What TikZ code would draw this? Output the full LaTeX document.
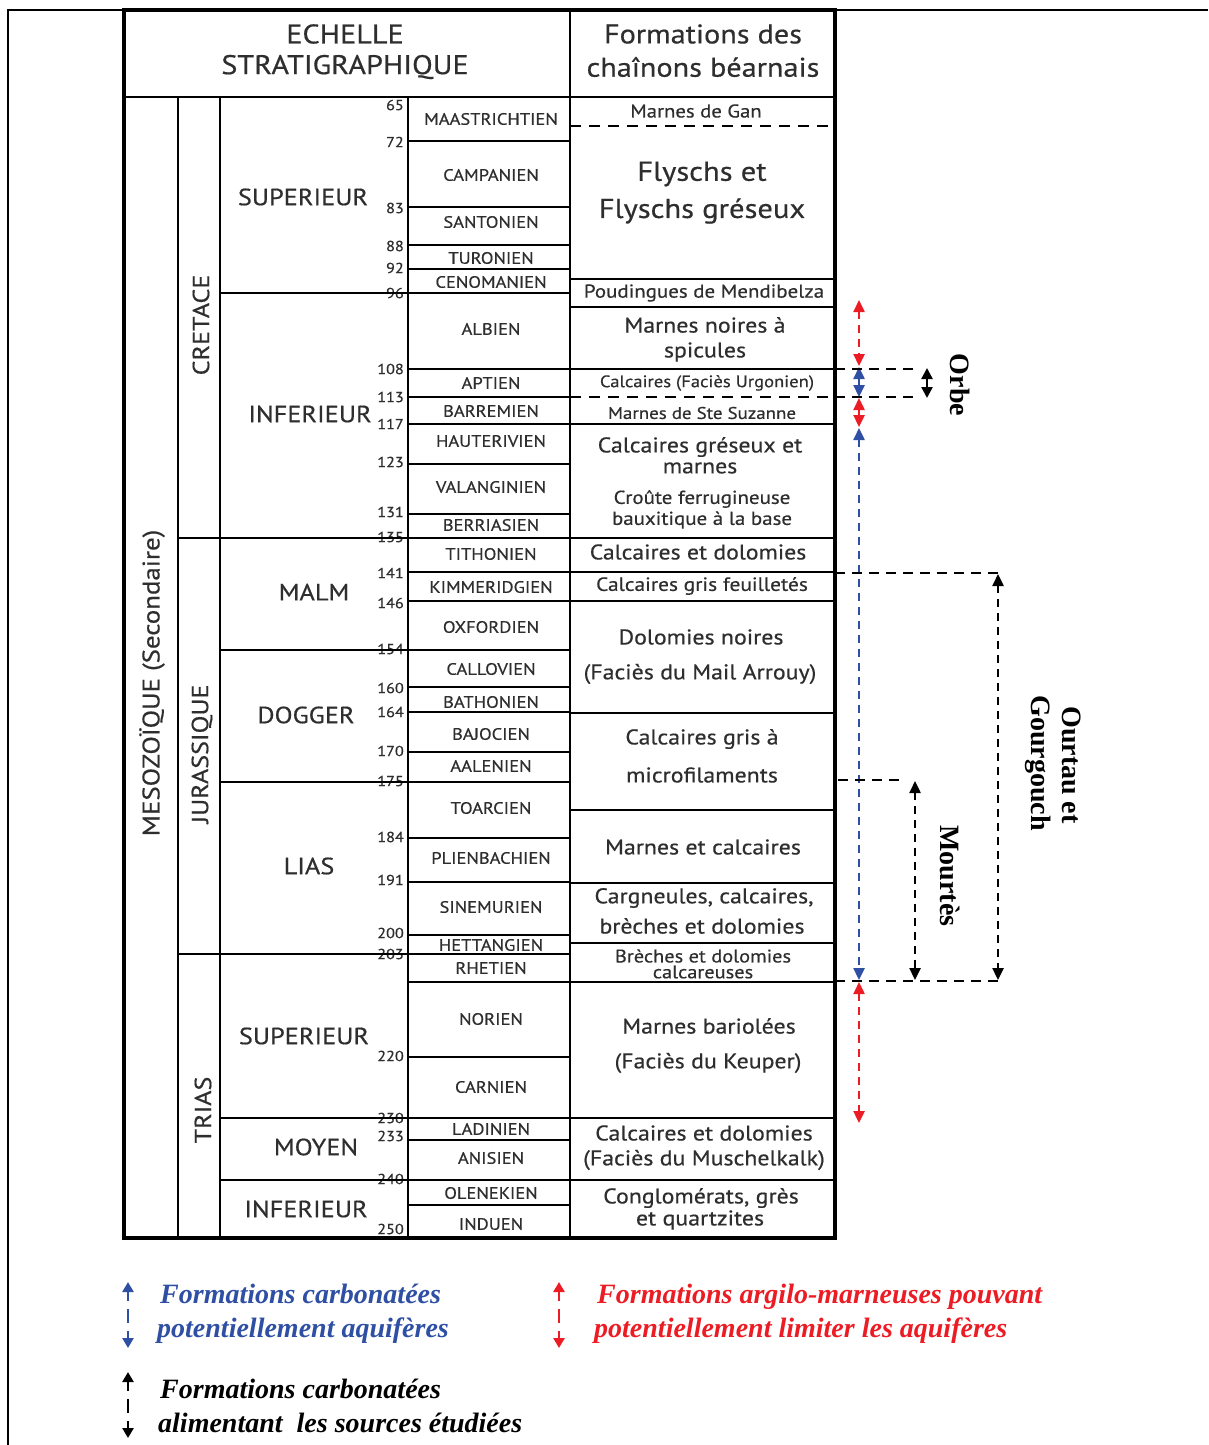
\documentclass[tikz,border=0pt]{standalone}
\usepackage{fontspec}
\setmainfont{Liberation Serif}
\newfontfamily\tabfont[FakeStretch=1.12,FakeBold=0.5]{PT Sans}
\usetikzlibrary{arrows.meta}
\definecolor{txt}{HTML}{2E2E2E}
\definecolor{bluea}{HTML}{2E4FA3}
\definecolor{reda}{HTML}{EC1C24}
\newcommand\tfs[1]{\tabfont\fontsize{#1}{#1}\selectfont}
\newcommand\lgs{\fontsize{28}{28}\selectfont\bfseries\itshape}
\begin{document}
\begin{tikzpicture}[x=1pt,y=-1pt,
  tline/.style={line width=2.6},
  tdash/.style={line width=2.6,dash pattern=on 11 off 8},
  num/.style={font=\tfs{14.5}, text=txt, inner sep=0, anchor=east},
  stg/.style={font=\tfs{16.5}, text=txt, inner sep=0},
  sub/.style={font=\tfs{23.5}, text=txt, inner sep=0},
  rot/.style={font=\tfs{24}, text=txt, inner sep=0, rotate=90},
  fm/.style={font=\tfs{#1}, text=txt, inner sep=0},
  hd/.style={font=\tfs{27}, text=txt, inner sep=0},
  site/.style={font=\fontsize{28}{28}\selectfont\bfseries, inner sep=0, rotate=-90},
  arr/.style={line width=2.4, dash pattern=on 8 off 6, {Triangle[length=12pt,width=11pt]}-{Triangle[length=12pt,width=11pt]}},
  blkdash/.style={line width=2.2, dash pattern=on 10 off 7},
  lgarr/.style={line width=2.8, dash pattern=on 10 off 8 on 14 off 8, {Triangle[length=10pt,width=11pt]}-{Triangle[length=10pt,width=11pt]}},
  lg/.style={font=\lgs, inner sep=0, anchor=base west}
]
\useasboundingbox (0,0) rectangle (1208,1445);
% frame
\draw[line width=1.5] (8,1445) -- (8,10) -- (1208,10);

% ---------- numbers (drawn before the lines) ----------
\node[num] (n65)  at (404,105) {65};
\node[num] (n72)  at (404,142) {72};
\node[num] (n83)  at (404,208) {83};
\node[num] (n88)  at (404,246) {88};
\node[num] (n92)  at (404,268) {92};
\node[num] (n96)  at (404,293) {96};
\node[num] (n108) at (404,369) {108};
\node[num] (n113) at (404,397) {113};
\node[num] (n117) at (404,424) {117};
\node[num] (n123) at (404,462) {123};
\node[num] (n131) at (404,512) {131};
\node[num] (n135) at (404,537) {135};
\node[num] (n141) at (404,573) {141};
\node[num] (n146) at (404,603) {146};
\node[num] (n154) at (404,649) {154};
\node[num] (n160) at (404,688) {160};
\node[num] (n164) at (404,712) {164};
\node[num] (n170) at (404,751) {170};
\node[num] (n175) at (404,781) {175};
\node[num] (n184) at (404,837) {184};
\node[num] (n191) at (404,880) {191};
\node[num] (n200) at (404,933) {200};
\node[num] (n203) at (404,954) {203};
\node[num] (n220) at (404,1056) {220};
\node[num] (n230) at (404,1118) {230};
\node[num] (n233) at (404,1136) {233};
\node[num] (n240) at (404,1179) {240};
\node[num] (n250) at (404,1229) {250};

% ---------- table lines ----------
\draw[line width=3.2] (124,10) rectangle (835,1238);
\draw[tline] (124,97) -- (835,97);
\draw[tline] (570,10) -- (570,1238);
\foreach \x in {178,220,408} \draw[tline] (\x,97) -- (\x,1238);
% era boundaries
\foreach \y in {538,954} \draw[tline] (178,\y) -- (570,\y);
% epoch boundaries
\foreach \y in {293,650,782,1118,1180} \draw[tline] (220,\y) -- (570,\y);
% stage boundaries
\foreach \y in {141,207,245,269,369,397,424,464,514,572,601,687,712,752,838,882,935,982,1057,1140,1205}
  \draw[tline] (408,\y) -- (570,\y);
% formation boundaries
\foreach \y in {279,307,369,424,538,572,601,713,810,883,943,982,1118,1180}
  \draw[tline] (570,\y) -- (835,\y);
\foreach \y in {126,397} \draw[tdash] (570,\y) -- (835,\y);

% ---------- headers ----------
\node[hd] (h1) at (345,34) {ECHELLE};
\node[hd] (h2) at (345,67) {STRATIGRAPHIQUE};
\node[hd] (h3) at (703,34) {Formations des};
\node[hd] (h4) at (703,67) {chaînons béarnais};

% ---------- rotated labels ----------
\node[rot] (era) at (152,683) {MESOZOÏQUE (Secondaire)};
\node[rot, font=\tfs{23.3}] (cre) at (201,325) {CRETACE};
\node[rot, font=\tfs{23.3}] (jur) at (202,754) {JURASSIQUE};
\node[rot, font=\tfs{23.3}] (tri) at (203,1110) {TRIAS};

% ---------- epochs ----------
\node[sub] (e1) at (303,197) {SUPERIEUR};
\node[sub] (e2) at (310,414) {INFERIEUR};
\node[sub] (e3) at (314,592) {MALM};
\node[sub] (e4) at (306,715) {DOGGER};
\node[sub] (e5) at (309,866) {LIAS};
\node[sub] (e6) at (304,1036) {SUPERIEUR};
\node[sub] (e7) at (316,1147) {MOYEN};
\node[sub] (e8) at (306,1209) {INFERIEUR};

% ---------- stages ----------
\foreach \y/\t [count=\i] in {119/MAASTRICHTIEN,175/CAMPANIEN,222/SANTONIEN,258/TURONIEN,282/CENOMANIEN,
  329/ALBIEN,383/APTIEN,411/BARREMIEN,441/HAUTERIVIEN,487/VALANGINIEN,525/BERRIASIEN,
  554/TITHONIEN,587/KIMMERIDGIEN,627/OXFORDIEN,669/CALLOVIEN,702/BATHONIEN,734/BAJOCIEN,766/AALENIEN,
  808/TOARCIEN,858/PLIENBACHIEN,907/SINEMURIEN,945/HETTANGIEN,
  968/RHETIEN,1019/NORIEN,1087/CARNIEN,1129/LADINIEN,1158/ANISIEN,1193/OLENEKIEN,1224/INDUEN}
  \node[stg] (s\i) at (491,\y) {\t};

% ---------- formations ----------
\node[fm=18.5] (f1)  at (696,111) {Marnes de Gan};
\node[fm=27.3] (f2)  at (702,174) {Flyschs et};
\node[fm=27.3] (f3)  at (702,211) {Flyschs gréseux};
\node[fm=18.7] (f4)  at (704,293) {Poudingues de Mendibelza};
\node[fm=21.3] (f5)  at (705,325) {Marnes noires à};
\node[fm=21.3] (f6)  at (705,352) {spicules};
\node[fm=16.6] (f7)  at (707,383) {Calcaires (Faciès Urgonien)};
\node[fm=16.9] (f8)  at (702,413) {Marnes de Ste Suzanne};
\node[fm=21.3] (f9)  at (700,447) {Calcaires gréseux et};
\node[fm=21.3] (f10) at (700,468) {marnes};
\node[fm=18.7] (f11) at (702,499) {Croûte ferrugineuse};
\node[fm=18.7] (f12) at (702,520) {bauxitique à la base};
\node[fm=21.2] (f13) at (698,552) {Calcaires et dolomies};
\node[fm=19.1] (f14) at (702,586) {Calcaires gris feuilletés};
\node[fm=21.3] (f15) at (701,637) {Dolomies noires};
\node[fm=21.3] (f16) at (700,674) {(Faciès du Mail Arrouy)};
\node[fm=21.3] (f17) at (702,739) {Calcaires gris à};
\node[fm=21.3] (f18) at (702,775) {microfilaments};
\node[fm=21.3] (f19) at (703,847) {Marnes et calcaires};
\node[fm=21.3] (f20) at (704,898) {Cargneules, calcaires,};
\node[fm=21.3] (f21) at (702,926) {brèches et dolomies};
\node[fm=18.2] (f22) at (703,956) {Brèches et dolomies};
\node[fm=18.2] (f23) at (703,972) {calcareuses};
\node[fm=21.3] (f24) at (709,1026) {Marnes bariolées};
\node[fm=21.3] (f25) at (708,1063) {(Faciès du Keuper)};
\node[fm=21.3] (f26) at (704,1133) {Calcaires et dolomies};
\node[fm=21.3] (f27) at (704,1160) {(Faciès du Muschelkalk)};
\node[fm=21.3] (f28) at (701,1198) {Conglomérats, grès};
\node[fm=21.3] (f29) at (700,1220) {et quartzites};

% ---------- aquifer arrows ----------
\coordinate (r1a) at (859,300); \coordinate (r1b) at (859,366);
\coordinate (b1a) at (859,367); \coordinate (b1b) at (859,397);
\coordinate (r2a) at (859,398); \coordinate (r2b) at (859,427);
\coordinate (b2a) at (859,428); \coordinate (b2b) at (859,980);
\coordinate (r3a) at (859,982); \coordinate (r3b) at (859,1123);
\draw[arr, reda]  (r1a) -- (r1b);
\draw[arr, bluea] (b1a) -- (b1b);
\draw[arr, reda]  (r2a) -- (r2b);
\draw[arr, bluea] (b2a) -- (b2b);
\draw[arr, reda]  (r3a) -- (r3b);

% ---------- Orbe ----------
\coordinate (o1a) at (835,369); \coordinate (o1b) at (915,369);
\coordinate (o2a) at (835,397); \coordinate (o2b) at (915,397);
\draw[blkdash] (o1a) -- (o1b);
\draw[blkdash] (o2a) -- (o2b);
\coordinate (oa) at (927,368); \coordinate (ob) at (927,398);
\draw[line width=2.4, {Triangle[length=11pt,width=11pt]}-{Triangle[length=11pt,width=11pt]}] (oa) -- (ob);
\node[site] (orbe) at (960,385) {Orbe};

% ---------- Ourtau et Gourgouch ----------
\coordinate (g1a) at (835,573); \coordinate (g1b) at (998,573);
\coordinate (g2a) at (835,981); \coordinate (g2b) at (998,981);
\draw[blkdash] (g1a) -- (g1b);
\draw[blkdash] (g2a) -- (g2b);
\coordinate (ga) at (998,574); \coordinate (gb) at (998,980);
\draw[arr, black] (ga) -- (gb);
\node[site] (ourt) at (1072,765) {Ourtau et};
\node[site] (gour) at (1038,763) {Gourgouch};

% ---------- Mourtes ----------
\coordinate (m1a) at (838,780); \coordinate (m1b) at (905,780);
\draw[blkdash] (m1a) -- (m1b);
\coordinate (ma) at (915,781); \coordinate (mb) at (915,980);
\draw[arr, black] (ma) -- (mb);
\node[site] (mour) at (950,876) {Mourtès};

% ---------- legend ----------
\coordinate (lb1) at (128,1282); \coordinate (lb2) at (128,1348);
\draw[lgarr, bluea] (lb1) -- (lb2);
\node[lg, text=bluea] (lbt1) at (160,1303) {Formations carbonatées};
\node[lg, text=bluea] (lbt2) at (157,1337) {potentiellement aquifères};

\coordinate (lr1) at (559,1282); \coordinate (lr2) at (559,1348);
\draw[lgarr, reda] (lr1) -- (lr2);
\node[lg, text=reda] (lrt1) at (597,1303) {Formations argilo-marneuses pouvant};
\node[lg, text=reda] (lrt2) at (594,1337) {potentiellement limiter les aquifères};

\coordinate (lk1) at (128,1372); \coordinate (lk2) at (128,1438);
\draw[lgarr, black] (lk1) -- (lk2);
\node[lg] (lkt1) at (160,1398) {Formations carbonatées};
\node[lg] (lkt2) at (158,1432) {alimentant\ \ les sources étudiées};
\end{tikzpicture}
\end{document}
